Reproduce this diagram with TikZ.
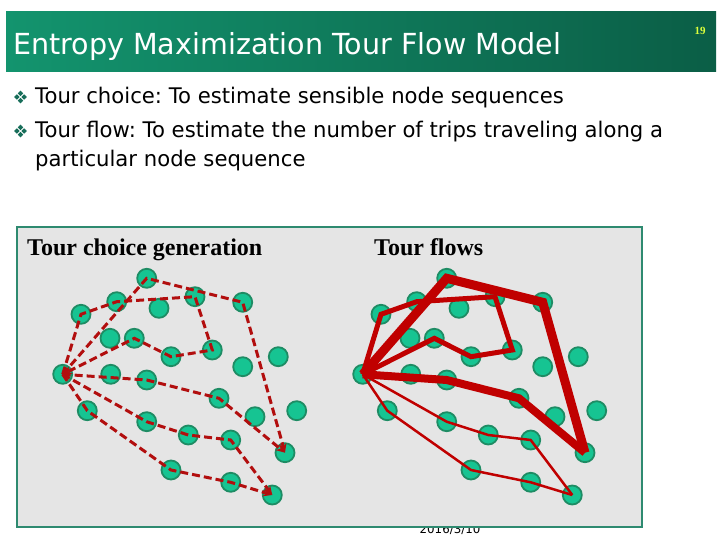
\documentclass[tikz,border=0pt]{standalone}
\usepackage{fontspec}
\setmainfont{Liberation Serif}
\newfontfamily\tah[FakeStretch=0.985]{DejaVu Sans}
\usetikzlibrary{arrows.meta}
\definecolor{barL}{RGB}{19,148,110}
\definecolor{barR}{RGB}{11,94,70}
\definecolor{boxgray}{RGB}{229,229,229}
\definecolor{boxline}{RGB}{46,138,112}
\definecolor{dotfill}{RGB}{22,196,146}
\definecolor{dotline}{RGB}{30,140,100}
\definecolor{tourred}{RGB}{178,14,14}
\definecolor{flowred}{RGB}{192,0,0}
\definecolor{bullc}{RGB}{24,110,90}
\definecolor{pagey}{RGB}{220,255,60}
\tikzset{
  dot/.style={circle, minimum size=19pt, inner sep=0pt, fill=dotfill, draw=dotline, line width=1.8pt},
  tourdash/.style={draw=tourred, line width=3pt, dash pattern=on 8pt off 4pt},
  tourarrow/.style={tourdash, -{Stealth[length=9pt,width=8pt]}},
  flow/.style={draw=flowred, line join=miter},
  pics/quad/.style={code={
    \foreach \cx/\cy in {0/-3.6,0/3.6,-3.6/0,3.6/0}{
      \fill[bullc] (\cx,\cy-2.7) -- (\cx+2.7,\cy) -- (\cx,\cy+2.7) -- (\cx-2.7,\cy) -- cycle;}
  }}
}
\begin{document}
\frenchspacing
\begin{tikzpicture}[x=1pt,y=-1pt]
\useasboundingbox (0,0) rectangle (720,540);
\fill[white] (0,0) rectangle (720,540);
% title bar
\shade[left color=barL, right color=barR] (6,12) rectangle (716,72);
\node[anchor=base west, inner sep=0pt, text=white] (title) at (13,55)
  {\tah\fontsize{29}{29}\selectfont Entropy Maximization Tour Flow Model};
\node[inner sep=0pt, text=pagey] (page) at (700,31) {\bfseries\fontsize{11}{11}\selectfont 19};
% bullets
\pic at (20.5,97) {quad};
\pic at (20.5,131) {quad};
\node[anchor=base west, inner sep=0pt] (b1) at (35,104)
  {\tah\fontsize{21.5}{21.5}\selectfont Tour choice: To estimate sensible node sequences};
\node[anchor=base west, inner sep=0pt] (b2) at (35,138)
  {\tah\fontsize{21.5}{21.5}\selectfont Tour flow: To estimate the number of trips traveling along a};
\node[anchor=base west, inner sep=0pt] (b3) at (35,167)
  {\tah\fontsize{21.5}{21.5}\selectfont particular node sequence};
% date (partly hidden by the box)
\node[inner sep=0pt] (date) at (450,529.5) {\tah\fontsize{12}{12}\selectfont 2016/3/10};
% box
\filldraw[fill=boxgray, draw=boxline, line width=2pt] (17,227) rectangle (642,527);
\node[anchor=base west, inner sep=0pt] (t1) at (27,255)
  {\bfseries\fontsize{24}{24}\selectfont Tour choice generation};
\node[anchor=base west, inner sep=0pt] (t2) at (374,255)
  {\bfseries\fontsize{24}{24}\selectfont Tour flows};
% nodes
\foreach \i/\x/\y in {1/146.7/278.3, 2/195/296.7, 3/116.7/301.7, 4/159/308.3,
  5/242.7/302.3, 6/81/314.3, 7/110/338.3, 8/134.3/338.3, 9/171/356.7,
  10/212.3/350, 11/278.3/356.7, 12/242.7/366.7, 13/62.7/374.3, 14/110.7/374.3,
  15/146.7/380, 16/219/398.3, 17/87.3/410.7, 18/255/416.7, 19/296.7/410.7,
  20/146.7/421.7, 21/188.3/435, 22/230.7/440, 23/285/452.7, 24/171/470,
  25/230.7/482.3, 26/272.3/495}{
  \node[dot] (L\i) at (\x,\y) {};
  \node[dot] (R\i) at (\x+300,\y) {};
}
% tour choice (dashed)
\draw[tourarrow] (L13.center) -- (L6.center) -- (L3.center) -- (L2.center) -- (L10.center) -- (L9.center) -- (L8.center) -- (L13.center);
\draw[tourarrow] (L13.center) -- (L1.center) -- (L5.center) -- (L23.center);
\draw[tourarrow] (L13.center) -- (L15.center) -- (L16.center) -- (L23.center);
\draw[tourarrow] (L13.center) -- (L20.center) -- (L21.center) -- (L22.center) -- (L26.center);
\draw[tourarrow] (L13.center) -- (L17.center) -- (L24.center) -- (L25.center) -- (L26.center);
% tour flows (solid, width = flow)
\draw[flow, line width=5pt] (R13.center) -- (R6.center) -- (R3.center) -- (R2.center) -- (R10.center) -- (R9.center) -- (R8.center) -- (R13.center);
\draw[flow, line width=9pt] (R13.center) -- (R1.center) -- (R5.center) -- (R23.center);
\draw[flow, line width=8pt] (R13.center) -- (R15.center) -- (R16.center) -- (R23.center);
\draw[flow, line width=2.5pt] (R13.center) -- (R20.center) -- (R21.center) -- (R22.center) -- (R26.center);
\draw[flow, line width=2.5pt] (R13.center) -- (R17.center) -- (R24.center) -- (R25.center) -- (R26.center);
\end{tikzpicture}
\end{document}
